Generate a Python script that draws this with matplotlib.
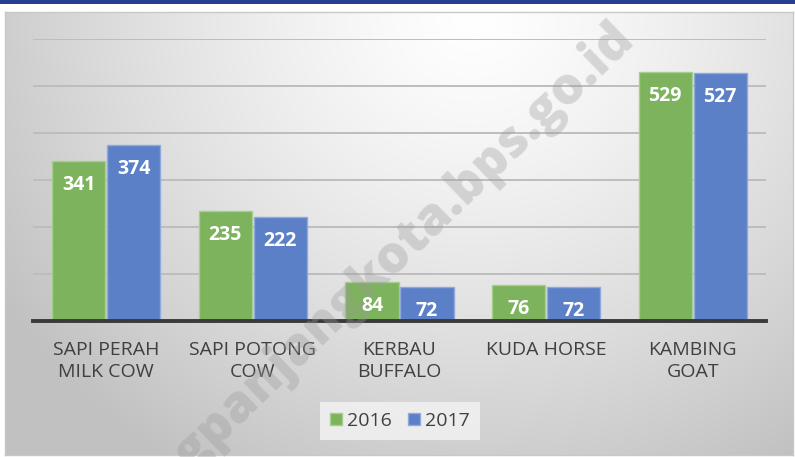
import numpy as np
import matplotlib
matplotlib.use("Agg")
import matplotlib.pyplot as plt
from matplotlib.patches import Rectangle

categories = ["SAPI PERAH\nMILK COW", "SAPI POTONG\nCOW", "KERBAU\nBUFFALO", "KUDA HORSE", "KAMBING\nGOAT"]
series_names = ["2016", "2017"]
values_2016 = [341, 235, 84, 76, 529]
values_2017 = [374, 222, 72, 72, 527]
yticks = [0, 100, 200, 300, 400, 500, 600]
watermark = "padangpanjangkota.bps.go.id"

W, H = 795, 457
fig = plt.figure(figsize=(W / 100, H / 100), dpi=100)
fig.patch.set_facecolor("white")

FONT = ["Open Sans", "DejaVu Sans"]

# top dark blue strip
fig.patches.append(Rectangle((0, 1 - 4 / H), 1, 4 / H, transform=fig.transFigure,
                             facecolor="#263f8e", edgecolor="none", zorder=0))

# gradient background panel
fl, fr, fb, ft = 5 / W, 793 / W, 1 - 455 / H, 1 - 12 / H
bg = fig.add_axes([fl, fb, fr - fl, ft - fb], zorder=0)
nx, ny = 400, 230
xx, yy = np.meshgrid(np.linspace(0, 788, nx), np.linspace(0, 443, ny))
d = np.sqrt(((xx - 470) / 1.0) ** 2 + ((yy - 0) / 0.95) ** 2)
t = np.clip(d / 560, 0, 1)
g = 1.0 - 0.24 * t ** 1.3
img = np.dstack([g, g, g])
bg.imshow(img, extent=[0, 1, 0, 1], aspect="auto", origin="upper")
bg.set_xlim(0, 1)
bg.set_ylim(0, 1)
bg.set_xticks([])
bg.set_yticks([])
for s in bg.spines.values():
    s.set_color("#c8c8c8")
    s.set_linewidth(1.0)

# main axes
al, ar = 33 / W, 766 / W
ab, at = 1 - 321 / H, 1 - 39 / H
ax = fig.add_axes([al, ab, ar - al, at - ab], zorder=1)
ax.patch.set_alpha(0)
ax.set_xlim(-0.5, len(categories) - 0.5)
ax.set_ylim(0, 600)
ax.set_yticks(yticks)
ax.yaxis.grid(True, color="#bdbdbd", linewidth=1.4)
ax.set_axisbelow(True)
ax.tick_params(axis="y", left=False, labelleft=False)
ax.tick_params(axis="x", bottom=False, pad=11)
for side in ["left", "right", "top"]:
    ax.spines[side].set_visible(False)
ax.spines["bottom"].set_color("#3a3a3a")
ax.spines["bottom"].set_linewidth(2.8)
ax.spines["bottom"].set_zorder(5)

x = np.arange(len(categories))
bw = 0.362
off = 0.1875
green = "#7db35c"
blue = "#5b80c8"
b1 = ax.bar(x - off, values_2016, bw, color=green, edgecolor="#a5cf8c", linewidth=1.0,
            label=series_names[0], zorder=3)
b2 = ax.bar(x + off, values_2017, bw, color=blue, edgecolor="#8fa9dc", linewidth=1.0,
            label=series_names[1], zorder=3)

for bars in (b1, b2):
    for r in bars:
        h = r.get_height()
        ax.annotate(f"{int(h)}", (r.get_x() + r.get_width() / 2, h), xytext=(0, -24),
                    textcoords="offset pixels", ha="center", va="center",
                    color="white", fontweight="bold", fontsize=14, family=FONT, zorder=7)

ax.set_xticks(x)
ax.set_xticklabels(categories, fontsize=14, color="#404040", family=FONT, linespacing=1.3)
for lbl in ax.get_xticklabels():
    lbl.set_verticalalignment("top")

leg = fig.legend(handles=[b1, b2], labels=series_names, loc="center",
                 bbox_to_anchor=(400 / W, 1 - 421 / H), ncol=2, frameon=True,
                 prop={"family": FONT, "size": 14}, handlelength=0.6, handleheight=0.6,
                 handletextpad=0.3, columnspacing=0.8, borderpad=0.5, fancybox=False)
leg.get_frame().set_facecolor("#f0f0f0")
leg.get_frame().set_edgecolor("none")
leg.get_frame().set_alpha(0.9)
for txt in leg.get_texts():
    txt.set_color("#404040")
leg.set_zorder(4)

# watermark (above bars, below data labels)
ax.text(636 / W, 1 - 40 / H, watermark, transform=fig.transFigure, clip_on=False,
        rotation=44, rotation_mode="anchor", ha="right", va="baseline",
        fontsize=37, fontweight="heavy", family=FONT,
        color="#9a9a9a", alpha=0.35, zorder=6)

fig.savefig("out.png", dpi=100)
